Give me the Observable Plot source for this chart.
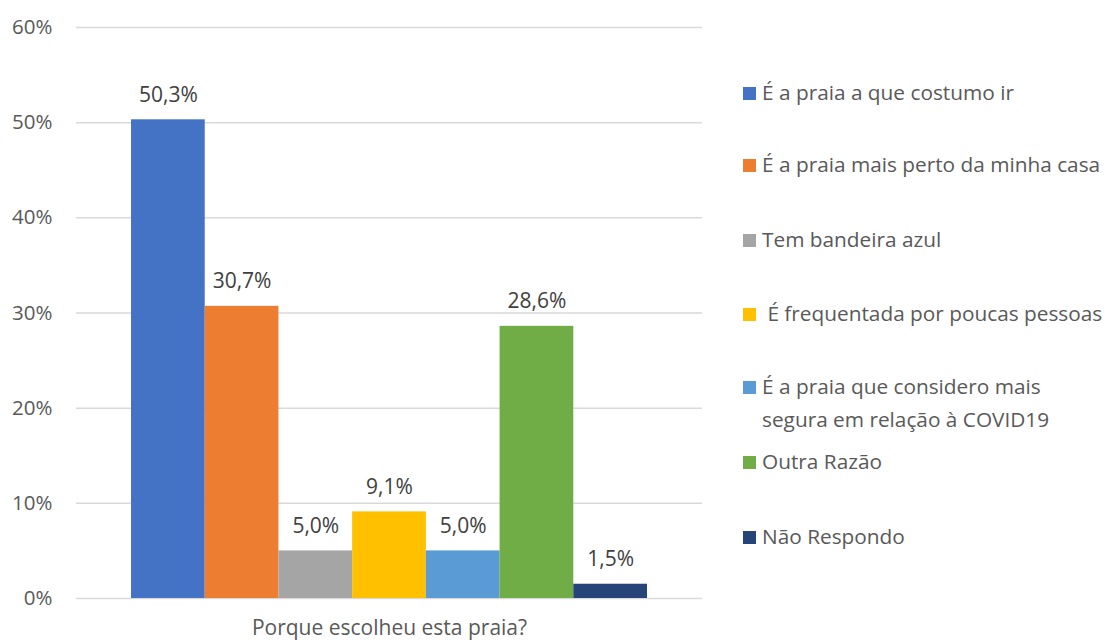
<!DOCTYPE html>
<html>
<head>
<meta charset="utf-8">
<script src="https://cdn.jsdelivr.net/npm/d3@7"></script>
<script src="https://cdn.jsdelivr.net/npm/@observablehq/plot@0.6"></script>
<style>
  html, body { margin: 0; padding: 0; background: #fff; }
  #wrap { position: relative; width: 1105px; height: 640px; font-family: "Open Sans", sans-serif; }
  #legend { position: absolute; left: 0; top: 0; }
  .item { position: absolute; left: 743px; display: flex; align-items: flex-start; color: #595959; font-size: 20.8px; line-height: 33px; white-space: pre; }
  .sw { width: 13px; height: 13px; margin-top: 11px; margin-right: 6px; flex: none; }
</style>
</head>
<body>
<div id="wrap"><div id="legend"></div></div>
<script>
const categories = [
  "É a praia a que costumo ir",
  "É a praia mais perto da minha casa",
  "Tem bandeira azul",
  " É frequentada por poucas pessoas",
  "É a praia que considero mais\nsegura em relação à COVID19",
  "Outra Razão",
  "Não Respondo"
];
const values = [50.3, 30.7, 5.0, 9.1, 5.0, 28.6, 1.5];
const colors = ["#4472C4", "#ED7D31", "#A5A5A5", "#FFC000", "#5B9BD5", "#70AD47", "#264478"];
const yTicks = [0, 10, 20, 30, 40, 50, 60];
const xTitle = "Porque escolheu esta praia?";

const data = categories.map((c, i) => ({category: c, value: values[i], color: colors[i]}));
const fmt = v => v.toFixed(1).replace(".", ",") + "%";

const chart = Plot.plot({
  width: 1105,
  height: 640,
  marginLeft: 76,
  marginRight: 403,
  marginTop: 27,
  marginBottom: 42,
  style: {fontFamily: "'Open Sans', sans-serif", fontSize: "20px", color: "#595959", background: "#fff"},
  x: {domain: categories, range: [131, 647], padding: 0, round: false, axis: null},
  y: {domain: [0, 60], axis: null},
  marks: [
    Plot.ruleY(yTicks, {stroke: "#d9d9d9", strokeWidth: 1.5}),
    Plot.barY(data, {x: "category", y: "value", fill: "color"}),
    Plot.text(data, {x: "category", y: "value", text: d => fmt(d.value), dy: -25, fill: "#404040", fontSize: 21}),
    Plot.axisY(yTicks, {tickSize: 0, tickPadding: 24, tickFormat: d => d + "%", fill: "#595959", fontSize: 20.5, label: null}),
    Plot.text([xTitle], {frameAnchor: "bottom", dy: 36, fill: "#595959", fontSize: 21})
  ]
});
document.getElementById("wrap").prepend(chart);

const legendTops = [76, 148, 223, 297, 370, 445, 520];
const legend = document.getElementById("legend");
categories.forEach((c, i) => {
  const item = document.createElement("div");
  item.className = "item";
  item.style.top = legendTops[i] + "px";
  const sw = document.createElement("div");
  sw.className = "sw";
  sw.style.background = colors[i];
  const t = document.createElement("div");
  t.textContent = c;
  item.appendChild(sw);
  item.appendChild(t);
  legend.appendChild(item);
});
</script>
</body>
</html>
